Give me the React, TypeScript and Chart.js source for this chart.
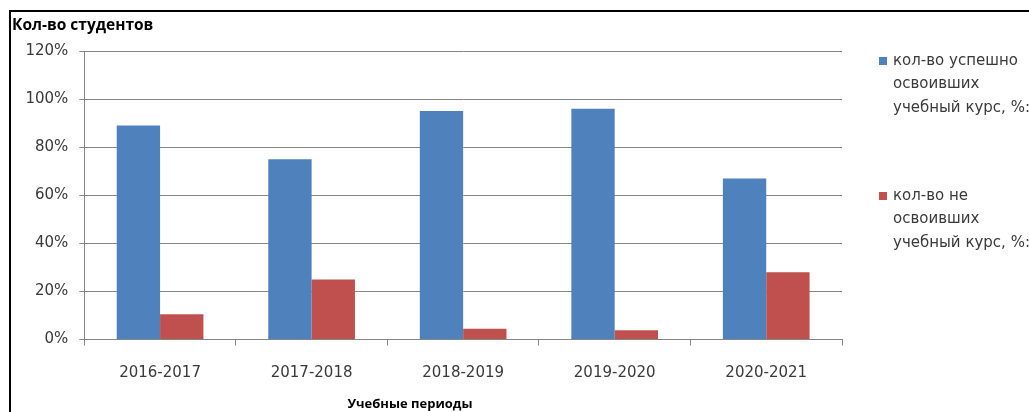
import React, { useEffect, useRef } from "react";
import { Chart, registerables } from "chart.js";

Chart.register(...registerables);

const categories = ["2016-2017", "2017-2018", "2018-2019", "2019-2020", "2020-2021"];
const successValues = [89, 75, 95, 96, 67];
const failValues = [10.5, 25, 4.5, 3.8, 28];
const successLabel = ["кол-во успешно", "освоивших", "учебный курс, %:"];
const failLabel = ["кол-во не", "освоивших", "учебный курс, %:"];
const yTicks = [0, 20, 40, 60, 80, 100, 120];
const chartTitle = "Кол-во студентов";
const xTitle = "Учебные периоды";

const BLUE = "#4F81BD";
const RED = "#C0504D";
const GRID = "#868686";
const TEXT = "#3a3a3a";
const REG_FONT = "'DejaVu Sans', sans-serif";
const BOLD_FONT = "'Open Sans', sans-serif";

const labelsPlugin = {
  id: "customLabels",
  afterDraw(chart: any) {
    const ctx = chart.ctx as CanvasRenderingContext2D;
    ctx.save();
    // chart title
    ctx.fillStyle = "#000";
    ctx.font = `bold 15.5px ${BOLD_FONT}`;
    ctx.textAlign = "left";
    ctx.textBaseline = "alphabetic";
    ctx.fillText(chartTitle, 12, 30);
    // x axis title
    ctx.font = `bold 13px ${BOLD_FONT}`;
    ctx.textAlign = "center";
    ctx.fillText(xTitle, 410, 408);
    // legend
    ctx.font = `15px ${REG_FONT}`;
    ctx.textAlign = "left";
    ctx.textBaseline = "middle";
    const starts = [61, 196];
    chart.data.datasets.forEach((ds: any, i: number) => {
      const y0 = starts[i];
      ctx.fillStyle = ds.backgroundColor;
      ctx.fillRect(879, y0 - 4, 8, 8);
      ctx.fillStyle = TEXT;
      (ds.legendLines as string[]).forEach((line, j) => {
        ctx.fillText(line, 893, y0 + j * 23.5);
      });
    });
    ctx.restore();
  },
};

export default function App() {
  const canvasRef = useRef<HTMLCanvasElement | null>(null);

  useEffect(() => {
    document.body.style.margin = "0";
    const canvas = canvasRef.current;
    if (!canvas) return;
    const chart = new Chart(canvas, {
      type: "bar",
      data: {
        labels: categories,
        datasets: [
          {
            label: successLabel.join(" "),
            legendLines: successLabel,
            data: successValues,
            backgroundColor: BLUE,
            categoryPercentage: 0.572,
            barPercentage: 1,
          } as any,
          {
            label: failLabel.join(" "),
            legendLines: failLabel,
            data: failValues,
            backgroundColor: RED,
            categoryPercentage: 0.572,
            barPercentage: 1,
          } as any,
        ],
      },
      options: {
        animation: false,
        responsive: true,
        maintainAspectRatio: false,
        layout: { padding: { left: 0, right: 187, top: 51, bottom: 0 } },
        plugins: {
          legend: { display: false },
          title: { display: false },
          tooltip: { enabled: false },
        },
        scales: {
          x: {
            grid: {
              drawOnChartArea: false,
              drawTicks: true,
              tickLength: 6,
              color: GRID,
            },
            border: { color: GRID, width: 1 },
            ticks: {
              color: TEXT,
              font: { family: REG_FONT, size: 15 },
              maxRotation: 0,
              padding: 19,
            },
            afterFit: (scale: any) => {
              scale.height = 72.5;
            },
          },
          y: {
            min: 0,
            max: 120,
            afterBuildTicks: (scale: any) => {
              scale.ticks = yTicks.map((v) => ({ value: v }));
            },
            grid: { color: GRID, tickLength: 5, lineWidth: 1 },
            border: { color: GRID, width: 1 },
            ticks: {
              color: TEXT,
              font: { family: REG_FONT, size: 15 },
              padding: 11,
              callback: (v: any) => `${v}%`,
            },
            afterFit: (scale: any) => {
              scale.width = 84.3;
            },
          },
        },
      },
      plugins: [labelsPlugin],
    });
    return () => chart.destroy();
  }, []);

  return (
    <div style={{ position: "absolute", left: 0, top: 0, width: 1029, height: 412, background: "#fff", overflow: "hidden" }}>
      <canvas ref={canvasRef} />
      <div
        style={{
          position: "absolute",
          left: 9,
          top: 10,
          width: 1040,
          height: 420,
          borderLeft: "2px solid #000",
          borderTop: "2px solid #000",
          pointerEvents: "none",
        }}
      />
    </div>
  );
}
